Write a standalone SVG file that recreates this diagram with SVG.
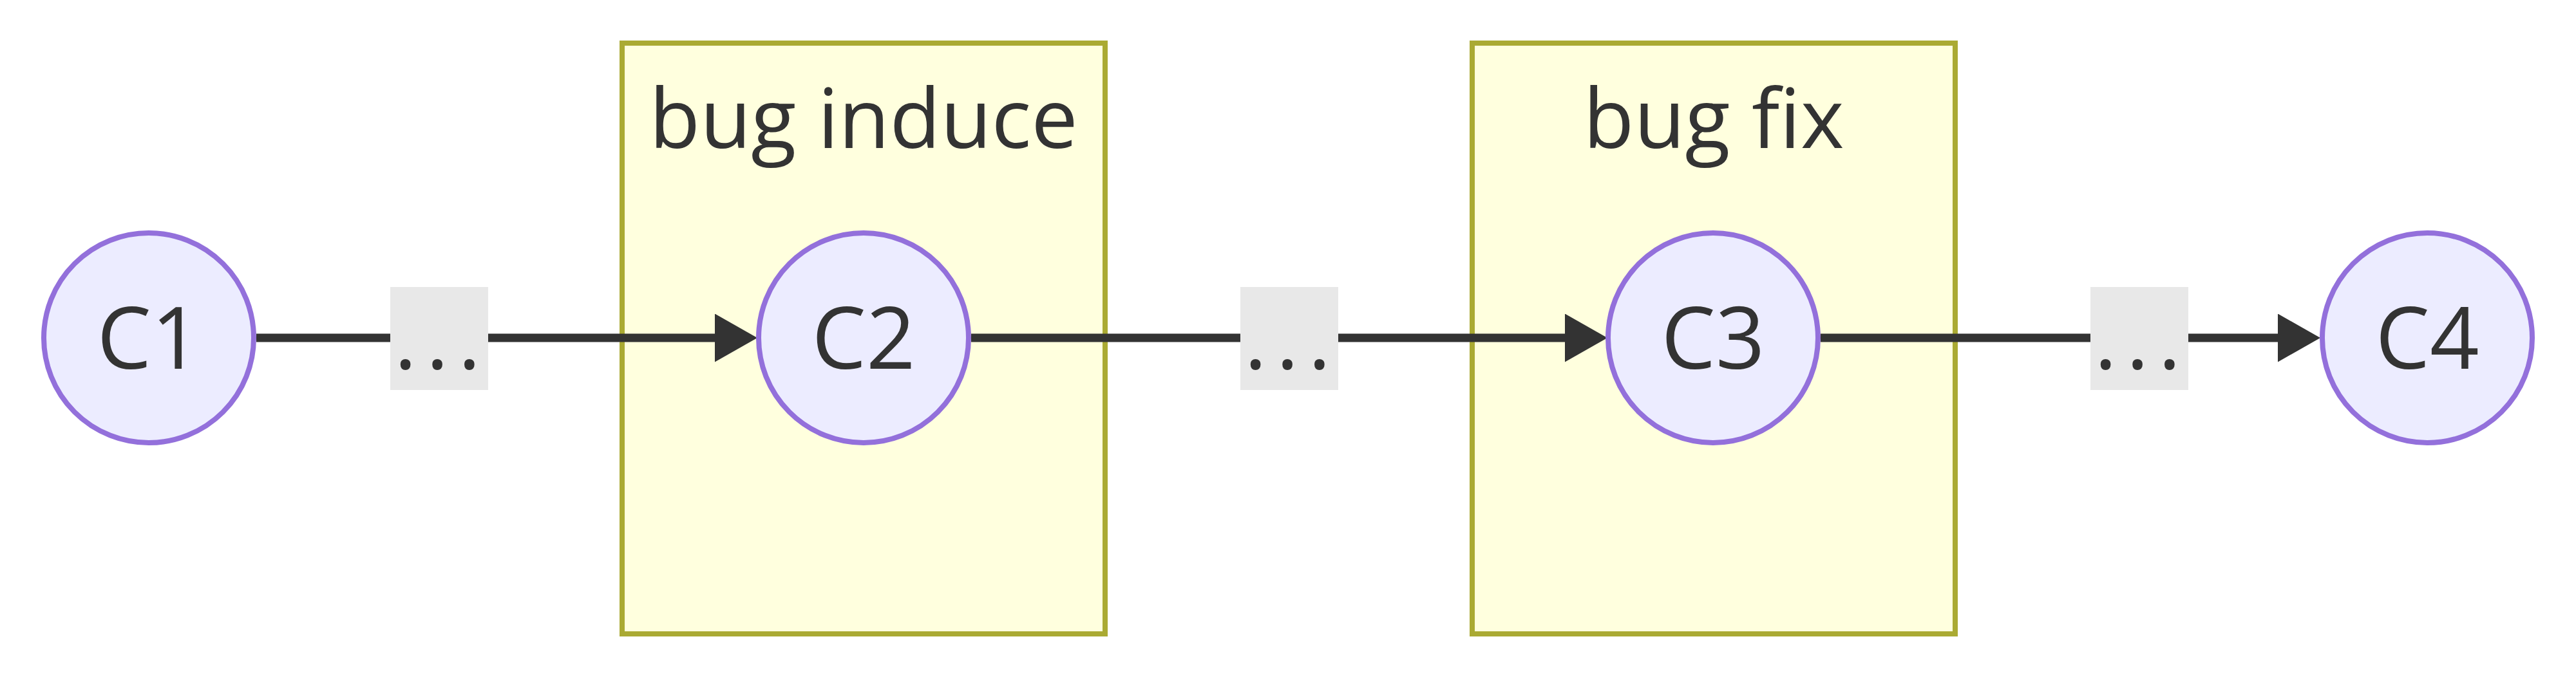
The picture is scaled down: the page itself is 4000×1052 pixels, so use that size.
<svg xmlns="http://www.w3.org/2000/svg" width="4000" height="1052" viewBox="0 0 4000 1052">
<defs>
<style>
.cluster rect{fill:#ffffde;stroke:#aaaa33;stroke-width:8}
.node circle{fill:#ECECFF;stroke:#9370DB;stroke-width:8}
.edge{stroke:#333333;stroke-width:13;fill:none}
.lbl rect{fill:#e8e8e8}
text{font-family:"Open Sans","Noto Sans","DejaVu Sans",sans-serif;font-size:134px;fill:#333333}
.title{font-size:129px}
.t{text-anchor:middle}
.dots{letter-spacing:14.4px}
</style>
<marker id="arrow" markerUnits="userSpaceOnUse" markerWidth="66" markerHeight="75" refX="0" refY="37.5" orient="auto" viewBox="0 0 66 75">
<path d="M0,0 L66,37.5 L0,75 z" fill="#333333"/>
</marker>
</defs>
<rect width="4000" height="1052" fill="#ffffff"/>
<g id="bug-induce" class="cluster">
<rect x="966" y="67" width="750" height="918"/>
<text class="t title" x="1341" y="230">bug induce</text>
</g>
<g id="bug-fix" class="cluster">
<rect x="2286" y="67" width="750" height="918"/>
<text class="t title" x="2661" y="230">bug fix</text>
</g>
<g id="connectors">
<path class="edge" d="M398,525 L1110,525" marker-end="url(#arrow)"/>
<path class="edge" d="M1508,525 L2430,525" marker-end="url(#arrow)"/>
<path class="edge" d="M2827,525 L3537,525" marker-end="url(#arrow)"/>
<g class="lbl">
<rect x="606" y="446" width="152" height="160"/>
<text class="dots" x="612" y="573">...</text>
</g>
<g class="lbl">
<rect x="1926" y="446" width="152" height="160"/>
<text class="dots" x="1932" y="573">...</text>
</g>
<g class="lbl">
<rect x="3246" y="446" width="152" height="160"/>
<text class="dots" x="3252" y="573">...</text>
</g>
</g>
<g id="C1" class="node">
<circle cx="231" cy="525" r="163"/>
<text class="t" x="231" y="573">C1</text>
</g>
<g id="C2" class="node">
<circle cx="1341" cy="525" r="163"/>
<text class="t" x="1341" y="573">C2</text>
</g>
<g id="C3" class="node">
<circle cx="2660" cy="525" r="163"/>
<text class="t" x="2660" y="573">C3</text>
</g>
<g id="C4" class="node">
<circle cx="3769" cy="525" r="163"/>
<text class="t" x="3769" y="573">C4</text>
</g>
</svg>
